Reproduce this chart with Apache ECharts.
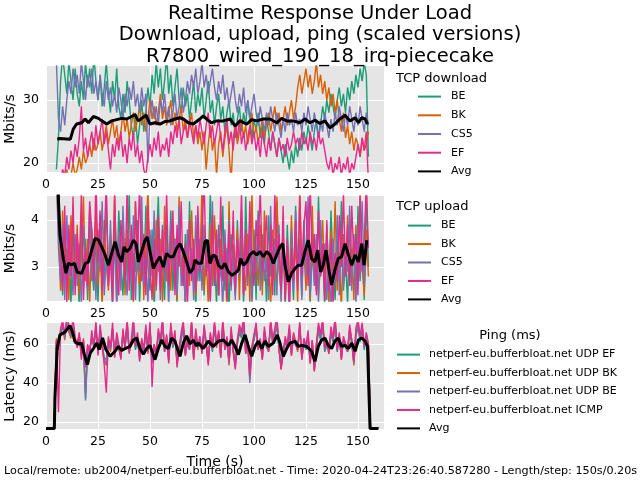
<!DOCTYPE html>
<html>
<head>
<meta charset="utf-8">
<script src="https://cdn.jsdelivr.net/npm/echarts@6/dist/echarts.min.js"></script>
<style>html,body{margin:0;padding:0;background:#fff}#c{width:640px;height:480px}</style>
</head>
<body>
<div id="c"></div>
<script>
// ---- sampling ----
const sampleStep = 1;      // seconds between plotted samples
const tcpStart = 5;        // first TCP sample time (s)
const pingStart = 0;       // first ping sample time (s)

// ---- TCP download (Mbits/s), t = 5..155 ----
const dlBE = [19,24,33,37,34,31,36,33,30,35, 31,29,33,30,36,32,35,31,37,33, 30,34,29,32,36,31,28,33,30,35, 29,27,31,28,33,30,26,24,28,23,
  26,30,25,28,32,29,34,31,36,32, 35,30,33,37,31,34,29,32,35,30, 28,32,29,31,27,30,33,28,31,29, 32,27,30,33,28,30,26,29,31,27,
  29,25,28,30,26,28,24,27,29,25, 28,26,30,27,24,27,25,28,24,26, 23,27,25,22,25,23,21,24,22,20, 23,21,19,22,20,23,21,24,22,25,
  23,26,24,22,25,27,24,26,29,27, 30,28,31,29,27,30,32,29,31,28, 32,30,33,31,34,32,35,33,36,34, 21];
const dlBK = [15,17,16,18,17,19,17,18,20,18, 19,21,19,22,20,21,23,21,24,22, 23,25,22,24,26,23,25,27,24,26, 23,25,28,25,27,24,26,28,25,27,
  29,26,28,25,27,30,27,29,26,28, 31,27,29,26,28,30,26,28,25,27, 29,25,27,24,26,28,24,26,23,25, 22,25,19,23,26,22,24,18,23,25,
  21,24,26,22,17,24,26,23,25,27, 24,26,23,25,28,24,26,23,25,27, 24,26,28,25,27,29,26,28,25,27, 29,26,28,30,27,29,32,34,31,33,
  35,32,34,31,33,36,32,34,31,33, 30,32,29,31,28,30,27,25,28,24, 26,23,25,22,24,23,21,24,22,23, 25];
const dlCS5 = [36,27,25,29,26,30,33,31,35,32, 34,31,36,33,30,34,32,35,31,33, 30,34,31,29,33,30,32,29,31,28, 32,30,27,31,29,32,30,33,29,31,
  28,32,29,31,20,28,30,27,29,26, 30,28,31,27,29,26,28,31,27,29, 32,28,30,33,31,34,32,35,31,33, 36,32,34,31,33,35,32,30,33,31,
  34,30,32,29,31,33,30,28,31,29, 32,28,30,27,29,31,28,26,29,27, 25,28,26,29,27,25,28,26,24,27, 25,28,26,27,25,28,26,27,25,28,
  26,29,27,25,28,26,24,27,25,28, 26,24,27,25,28,26,29,27,25,28, 26,29,27,25,28,26,29,27,25,28, 26];
const dlEF = [16,18,17,19,18,21,19,22,20,23, 21,24,29,22,24,21,23,25,22,26, 23,25,27,23,25,22,19,23,21,24, 22,25,21,23,20,24,22,25,21,23,
  20,22,19,18,21,23,21,24,22,25, 21,23,22,24,21,25,23,26,24,27, 23,25,26,24,27,25,23,26,24,27, 25,23,26,28,24,26,23,25,27,24,
  22,25,27,23,25,22,26,24,27,23, 25,22,24,26,23,25,22,24,21,25, 23,21,24,22,25,23,21,24,22,23, 21,24,22,23,25,23,24,22,25,23,
  24,22,25,23,24,22,25,23,24,22, 20,19,21,18,20,19,21,18,20,19, 21,18,20,19,21,23,21,24,22,25, 17];
const dlAvgTime = [5.4,6.5,11.7,12.5,13.1,14.7,17.2,18.8,20.4,22.8,25.2,26.8,29.2,31.6,34,36.4,38.8,41.2,42.8,44.4,46,48.1,50,52.4,54.8,57.2,59.6,62,64.4,66,68.4,70.8,72.4,74,75.6,77.5,79.5,82,85.3,88.5,90.9,93.3,96.5,98.9,101.3,104.5,107.7,110.9,113.3,115.7,118.9,122.1,124.5,126.9,129.3,131.7,134.1,136.5,138.9,141.3,143.8,146.2,148.6,150.2,151.8,153.4,154.6];
const dlAvg = [23.8,23.9,23.8,23.6,25.4,26.2,26.4,27.0,26.4,27.4,27.1,26.7,26.2,26.7,26.9,27.1,27.0,27.4,27.7,26.7,27.1,27.6,26.2,26.4,26.2,26.6,26.7,27.0,27.2,27.0,26.4,26.2,26.6,27.0,27.5,26.9,26.4,26.7,26.7,27.0,25.9,26.7,26.2,26.9,26.7,27.0,27.0,26.4,27.1,26.7,26.7,26.4,27.0,26.4,26.8,26.3,26.7,25.6,26.2,27.0,27.6,26.7,27.2,26.4,27.2,27.0,26.2];

// ---- TCP upload (Mbits/s), t = 5..155 ----
const ulBE = [5.2,4.6,3.1,2.4,3.8,2.6,3.5,2.2,3.9,2.7, 3.3,2.1,4.0,2.8,3.6,2.3,4.3,3.0,2.5,3.7, 2.2,4.1,3.2,2.6,4.4,2.9,3.4,2.1,3.9,2.7, 4.2,3.1,2.4,3.6,2.8,4.6,2.3,3.3,2.9,4.0,
  2.2,3.5,2.6,4.3,3.0,2.5,3.8,2.1,3.4,4.5, 2.7,3.1,2.3,3.9,2.8,4.2,2.5,3.6,2.2,4.0, 3.0,2.6,3.7,2.4,4.4,2.9,3.3,2.1,3.8,2.7, 4.1,2.4,3.5,2.9,4.6,2.6,3.2,2.2,3.9,2.8,
  4.3,2.5,3.4,2.1,3.7,3.0,2.4,4.0,2.7,3.6, 2.2,4.5,2.9,3.3,2.5,3.8,2.3,4.2,3.1,2.6, 3.5,2.2,4.1,2.8,3.4,2.4,4.4,3.0,2.5,3.7, 2.1,3.9,2.7,3.2,2.3,4.3,2.9,3.6,2.4,4.0,
  2.6,3.3,2.2,3.8,3.0,2.5,4.5,2.8,3.4,2.1, 3.9,2.6,4.2,3.1,2.3,3.6,2.8,4.4,2.5,3.2, 2.2,4.0,2.9,3.7,2.4,4.3,2.7,3.5,2.3,4.6, 3.0];
const ulBK = [4.9,3.8,2.5,4.2,2.9,3.4,2.3,4.1,3.0,2.6, 3.9,2.4,3.2,4.5,2.7,3.6,2.2,3.8,2.9,4.3, 2.6,3.5,2.1,4.0,3.1,2.5,3.7,2.8,4.6,2.3, 3.3,2.7,4.1,2.4,3.8,2.9,3.4,2.2,4.4,3.0,
  2.6,3.9,2.3,3.5,4.7,2.8,3.2,2.4,4.0,2.9, 3.6,2.2,4.3,2.7,3.3,2.5,3.9,3.1,2.3,4.5, 2.8,3.4,2.1,3.7,2.6,4.2,3.0,2.4,3.5,2.9, 4.8,2.5,3.3,2.2,3.9,2.7,4.1,3.0,2.4,3.6,
  2.8,3.2,2.1,4.4,2.6,3.5,2.9,3.8,2.3,4.0, 3.1,2.5,3.7,2.2,4.6,2.8,3.4,2.6,3.9,2.4, 4.2,2.9,3.3,2.1,3.8,2.7,4.5,3.0,2.5,3.6, 2.3,3.2,2.6,4.1,2.8,3.5,2.2,4.7,2.9,3.4,
  2.5,3.9,2.3,4.3,2.7,3.6,2.4,3.1,4.0,2.6, 3.5,2.2,3.8,2.8,4.4,2.5,3.3,2.1,3.7,2.9, 4.1,2.6,3.4,2.3,3.9,2.7,4.6,3.0,2.4,3.8, 2.8];
const ulCS5 = [5.0,3.4,2.7,3.9,2.3,4.1,2.8,3.3,2.4,3.7, 2.6,3.5,2.2,3.9,3.0,2.5,4.2,2.7,3.6,2.3, 3.8,2.9,4.4,2.4,3.2,2.6,4.0,2.8,3.5,2.1, 3.7,2.5,4.3,3.0,2.4,3.6,2.7,4.1,2.3,3.4,
  2.9,4.5,2.6,3.2,2.2,3.8,2.8,4.2,2.5,3.5, 2.3,3.9,2.7,3.4,2.1,4.0,2.9,3.6,2.4,4.3, 2.6,3.1,2.2,3.8,2.8,3.4,2.3,4.1,2.7,3.6, 2.5,3.9,2.9,3.3,2.2,4.4,2.6,3.7,2.4,3.2,
  2.1,3.8,2.7,4.0,2.5,3.4,2.3,3.6,2.8,4.2, 2.4,3.5,2.6,3.9,2.2,3.3,2.9,4.1,2.5,3.7, 2.7,3.2,2.3,4.3,2.8,3.6,2.4,3.9,2.2,3.5, 2.6,3.1,2.1,3.8,2.5,4.2,2.7,3.4,2.3,3.9,
  2.8,4.5,2.4,3.3,2.6,3.7,2.2,4.0,2.9,3.5, 2.3,3.2,2.0,3.6,2.7,4.1,2.4,3.8,2.6,3.4, 2.9,4.3,2.5,3.6,2.2,3.9,2.8,4.4,2.6,3.3, 3.5];
const ulEF = [5.5,4.7,3.6,2.5,4.3,2.2,3.9,2.8,4.5,2.4, 3.7,2.9,4.6,2.3,3.4,2.6,4.4,3.8,2.7,4.9, 3.1,4.2,2.5,3.6,4.8,2.6,3.3,2.2,4.5,3.0, 2.4,4.0,3.3,2.7,4.7,2.5,3.9,2.3,4.4,3.2,
  4.8,2.7,3.7,2.4,4.3,3.0,2.3,3.6,2.6,4.1, 2.5,3.8,2.9,4.6,2.6,3.4,4.2,2.4,3.9,3.0, 4.4,2.6,3.5,2.2,4.0,2.7,3.6,2.5,4.3,2.9, 3.7,4.9,2.8,3.4,2.3,4.1,2.6,3.8,2.4,4.5,
  2.7,3.5,2.3,3.9,2.6,4.2,2.5,3.6,3.0,4.6, 2.4,3.8,2.8,4.4,3.1,2.6,4.0,3.3,4.7,2.9, 3.5,4.1,2.6,3.9,2.4,4.6,3.2,3.7,2.5,4.3, 2.3,3.6,2.1,3.4,2.7,4.0,2.5,4.5,2.8,3.9,
  4.4,2.6,4.8,3.1,3.7,2.4,4.2,2.8,3.5,2.3, 4.0,2.5,3.6,2.2,3.3,2.7,4.1,3.0,4.6,2.8, 3.9,2.6,4.3,3.2,3.7,2.4,4.5,2.9,3.6,4.8, 3.4];
const ulAvgTime = [5.4,6.0,6.7,8.3,9.6,10.7,12.3,13.7,15,17.2,18.9,20.3,22,23.6,25.2,26.8,28.4,30,31.6,33.2,34.8,36.4,37.5,38.8,40.4,42,43.3,44.4,46,47.6,48.7,50,51.6,53.2,54.8,56.4,58,59.6,61.2,62.8,64.4,66,67.6,69.2,70.8,71.6,73.2,74.8,76.4,77.6,78.8,80.4,81.7,82.9,84.5,86,87.7,89.3,90.9,92.5,93.6,94.9,96.5,98,99.7,101.3,102.9,104.5,106.1,107.7,109.3,110.9,112.5,113.8,114.9,116.5,118.1,119.7,121.3,122.9,124.5,126.1,127.7,129.3,130.6,132,133.3,134.6,136.2,137.3,138.9,140.5,142.1,143.8,145.4,147,148.6,150.2,151.8,152.9,154.2];
const ulAvg = [5.5,4.4,3.68,3.19,2.87,3.08,3.05,3.08,2.89,2.87,3.08,3.1,3.36,3.61,3.58,3.43,3.26,3.04,3.29,3.54,3.26,3.11,3.43,3.33,3.4,3.57,3.5,3.11,3.33,3.57,3.64,3.33,2.97,3.11,3.22,3.0,3.29,3.22,3.22,3.4,3.5,3.33,3.11,2.88,2.97,3.15,3.08,3.08,3.54,3.57,3.08,3.26,3.22,3.04,2.97,3.08,2.9,2.83,2.87,2.94,3.18,3.04,3.11,3.26,3.33,3.26,3.33,3.22,3.33,3.26,3.08,3.26,3.43,3.5,3.04,2.69,2.87,2.97,3.04,3.04,3.33,3.57,3.18,3.11,3.36,2.9,3.04,3.36,2.9,2.62,2.94,3.18,3.22,3.5,3.26,3.04,3.26,3.11,3.5,3.04,3.57];

// ---- Ping (ms), t = 0..160 ----
const pingEF = [17,17,17,17,17,
  61,59,66,69,64,70,67,65,68,61, 59,63,56,60,32,57,58,62,59,67, 57,65,60,53,52,61,58,66,56,62, 59,55,64,58,69,56,61,68,57,62,
  54,60,57,66,56,67,52,58,56,64, 61,69,56,62,53,67,58,63,52,58, 62,68,56,60,57,69,54,64,59,61, 57,66,59,52,63,56,68,60,64,55,
  69,57,61,51,65,56,50,60,66,63, 70,57,59,47,57,62,67,59,60,54, 65,58,58,69,60,64,70,57,49,57, 61,57,66,56,63,59,58,68,54,60,
  57,63,52,60,48,58,67,62,69,56, 59,57,65,61,70,56,63,54,61,58, 56,66,60,51,64,69,61,67,57,63, 58,
  17,17,17,17,17];
const pingBK = [17,17,17,17,17,
  63,57,67,71,62,72,66,63,70,60, 61,65,54,62,35,59,56,64,61,69, 55,67,58,51,49,63,56,68,54,64, 57,53,66,60,71,58,59,70,59,64,
  52,62,55,68,58,69,51,60,54,66, 59,71,58,64,51,69,60,65,50,56, 64,70,54,62,59,71,52,66,57,63, 55,68,61,50,65,58,70,58,66,53,
  71,59,63,49,67,58,48,62,68,65, 72,55,61,42,59,64,69,57,62,52, 67,60,56,71,62,66,72,59,47,55, 63,59,68,54,65,61,56,70,52,62,
  59,65,50,62,46,60,69,64,71,58, 61,55,67,63,72,58,65,52,63,60, 58,68,62,49,66,71,63,69,59,65, 60,
  17,17,17,17,17];
const pingBE = [17,17,17,17,17,
  60,58,65,70,63,71,68,64,69,62, 60,64,55,61,31,58,57,63,60,68, 56,66,59,52,50,62,57,67,55,63, 58,54,65,59,70,57,60,69,58,63,
  53,61,56,67,57,68,50,59,55,65, 60,70,57,63,52,68,59,64,51,57, 63,69,55,61,58,70,53,65,58,62, 56,67,60,51,64,57,69,59,65,54,
  70,58,62,50,66,57,49,61,67,64, 71,56,60,40,58,63,68,58,61,53, 66,59,57,70,61,65,71,58,48,56, 62,58,67,55,64,60,57,69,53,61,
  58,64,51,61,47,59,68,63,70,57, 60,56,66,62,71,57,64,53,62,59, 57,67,61,50,65,70,62,68,58,64, 59,
  17,17,17,17,17];
const pingICMP = [17,17,17,17,17,
  62,25,68,72,65,74,70,66,73,64, 58,66,52,63,48,60,55,67,58,72, 54,70,61,49,35,64,58,71,53,66, 60,52,68,57,73,55,62,74,59,66,
  51,63,57,70,55,72,38,60,54,68, 62,74,56,65,50,71,60,67,48,58, 66,72,54,63,57,73,52,68,59,64, 55,70,61,49,66,58,72,60,67,53,
  73,57,64,51,69,56,47,62,70,66, 74,55,61,44,58,65,71,57,63,52, 69,60,56,73,62,68,75,58,47,55, 64,59,70,54,66,61,57,72,52,63,
  59,67,50,62,46,60,71,65,73,58, 61,55,69,63,74,57,66,52,64,60, 56,70,62,51,68,73,64,71,59,66, 60,
  17,17,17,17,17];
const pingAvgTime = [0,4.0,4.3,5.4,6.7,9.1,11.5,12.8,13.9,15.5,17.1,18.3,19.9,21.2,22.8,24.4,25.6,27.2,28.8,30.8,33.2,34.8,36.4,38,40.4,42,43.6,45.2,46.8,48.4,50,52.4,54,55.6,57.2,58.8,60.4,62,64.4,66,67.6,69.2,70.8,72.4,73.2,75.6,78,80.4,82.9,85.3,87.7,89.3,90.9,92.5,94.1,95.7,97.3,98.9,100.5,102.1,103.7,105.3,106.9,109.3,111.2,112.5,114.1,115.7,117.3,119.7,121.3,122.9,125.3,127.7,129.3,130.9,132.5,134.1,135.7,137.3,138.9,140.5,142.1,143.8,145.4,147,148.6,150.2,151.8,153.4,154.2,154.6,155.8,159.8];
const pingAvg = [16.6,16.6,32.4,58,64.7,66.1,69.5,65.8,61.3,60,60.5,55.2,49.4,55.2,57.7,60.5,57.2,63.1,57.2,53.7,56.3,58.8,56.7,57.7,58.8,62.1,63.1,57.7,54.7,57.7,59.3,52,57.7,62.1,58.8,57.7,63.1,61.5,53.7,60.5,64.2,60,62,59,60.5,57.7,61.5,58.8,61.5,62.1,59.3,62.1,58.8,54.6,60.5,64.7,58.8,53.7,58.8,61.5,57.7,61.5,58.8,60.5,64.7,60.5,53.7,57.7,60.5,61.5,58.8,59.3,58.8,56.3,51.1,58.8,62.1,63.1,59.3,57.7,61.5,63.1,58.8,59.3,57.7,60.5,56.3,62.1,63.1,61.5,62.1,58.8,16.6,16.6];

// ---- labels ----
const tcpNames = ['BE','BK','CS5','EF','Avg'];
const pingNames = ['netperf-eu.bufferbloat.net UDP EF','netperf-eu.bufferbloat.net UDP BK','netperf-eu.bufferbloat.net UDP BE','netperf-eu.bufferbloat.net ICMP','Avg'];
const dlTicks = [20,30];
const ulTicks = [3,4];
const pingTicks = [20,40,60];
const colors = ['#1b9e77','#d95f02','#7570b3','#e7298a'];

const FONT = 'DejaVu Sans';
function sampled(start, arr){ return arr.map((v,i)=>[start + i*sampleStep, v]); }
function zipped(ts, vs){ return vs.map((v,i)=>[ts[i], v]); }

const grids = [
  {left:46, top:66, width:338, height:106},
  {left:46, top:196, width:338, height:105},
  {left:46, top:323, width:338, height:106}
].map(g=>Object.assign(g,{show:true, backgroundColor:'#e5e5e5', borderWidth:0, containLabel:false, outerBoundsMode:'none'}));

function xAx(i){
  return {type:'value', gridIndex:i, min:0, max:162.5, interval:25,
    axisLine:{show:false}, axisTick:{show:false},
    splitLine:{show:true, lineStyle:{color:'#fff', width:1}},
    axisLabel:{color:'#000', fontFamily:FONT, fontSize:12.5, margin:6, showMaxLabel:false},
    name: i===2 ? 'Time (s)' : '', nameLocation:'middle', nameGap:26, nameMoveOverlap:false,
    nameTextStyle:{color:'#000', fontFamily:FONT, fontSize:14}};
}
function yAx(i, min, max, ticks, name){
  return {type:'value', gridIndex:i, min:min, max:max,
    axisLine:{show:false}, axisTick:{show:false, customValues:ticks},
    splitLine:{show:true, lineStyle:{color:'#fff', width:1}},
    axisLabel:{color:'#000', fontFamily:FONT, fontSize:12.5, margin:7, customValues:ticks},
    name:name, nameLocation:'middle', nameGap:29, nameMoveOverlap:false,
    nameTextStyle:{color:'#000', fontFamily:FONT, fontSize:14}};
}

const series = [];
function addLine(name, data, gi, color, width, z){
  series.push({type:'line', name:name, data:data, xAxisIndex:gi, yAxisIndex:gi,
    symbol:'none', showSymbol:false, clip:true, z:z,
    lineStyle:{color:color, width:width}, itemStyle:{color:color}});
}
[dlBE, dlBK, dlCS5, dlEF].forEach((arr,k)=>addLine(tcpNames[k], sampled(tcpStart, arr), 0, colors[k], 1.4, 2+k));
addLine('Avg', zipped(dlAvgTime, dlAvg), 0, '#000', 3, 10);
[ulBE, ulBK, ulCS5, ulEF].forEach((arr,k)=>addLine(tcpNames[k], sampled(tcpStart, arr), 1, colors[k], 1.4, 2+k));
addLine('Avg', zipped(ulAvgTime, ulAvg), 1, '#000', 3, 10);
[pingEF, pingBK, pingBE, pingICMP].forEach((arr,k)=>addLine(pingNames[k], sampled(pingStart, arr), 2, colors[k], 1.4, 2+k));
addLine('Avg', zipped(pingAvgTime, pingAvg), 2, '#000', 3, 10);

function legend(names, left, top, gap, pad){
  return {orient:'vertical', left:left, top:top, padding:0, itemWidth:23, itemHeight:14, itemGap:gap,
    data:names, selectedMode:false, itemStyle:{opacity:0},
    textStyle:{color:'#000', fontFamily:FONT, fontSize:11, padding:[0,0,0,pad]}};
}

const ttl = (size)=>({color:'#000', fontFamily:FONT, fontSize:size, fontWeight:'normal'});
const chart = echarts.init(document.getElementById('c'), null, {renderer:'canvas'});
chart.setOption({
  animation:false,
  backgroundColor:'#fff',
  title:[
    {text:'Realtime Response Under Load\nDownload, upload, ping (scaled versions)\nR7800_wired_190_18_irq-piececake',
     left:320, top:3, textAlign:'center', padding:0,
     textStyle:Object.assign(ttl(19.5), {lineHeight:21.5})},
    {text:'TCP download', left:396, top:72, padding:0, textStyle:ttl(13)},
    {text:'TCP upload', left:396, top:200, padding:0, textStyle:ttl(13)},
    {text:'Ping (ms)', left:510, top:329, textAlign:'center', padding:0, textStyle:ttl(13)},
    {text:'Local/remote: ub2004/netperf-eu.bufferbloat.net - Time: 2020-04-24T23:26:40.587280 - Length/step: 150s/0.20s',
     left:4, top:466, padding:0, textStyle:ttl(11.2)}
  ],
  legend:[
    legend(tcpNames, 417, 91, 7.5, 5),
    legend(tcpNames, 407, 220, 7.25, 5),
    legend(pingNames, 396, 349, 7.25, 4)
  ],
  grid:grids,
  xAxis:[xAx(0), xAx(1), xAx(2)],
  yAxis:[yAx(0, 18.6, 35.4, dlTicks, 'Mbits/s'), yAx(1, 2.28, 4.51, ulTicks, 'Mbits/s'), yAx(2, 16.4, 70.8, pingTicks, 'Latency (ms)')],
  series:series
});
</script>
</body>
</html>
